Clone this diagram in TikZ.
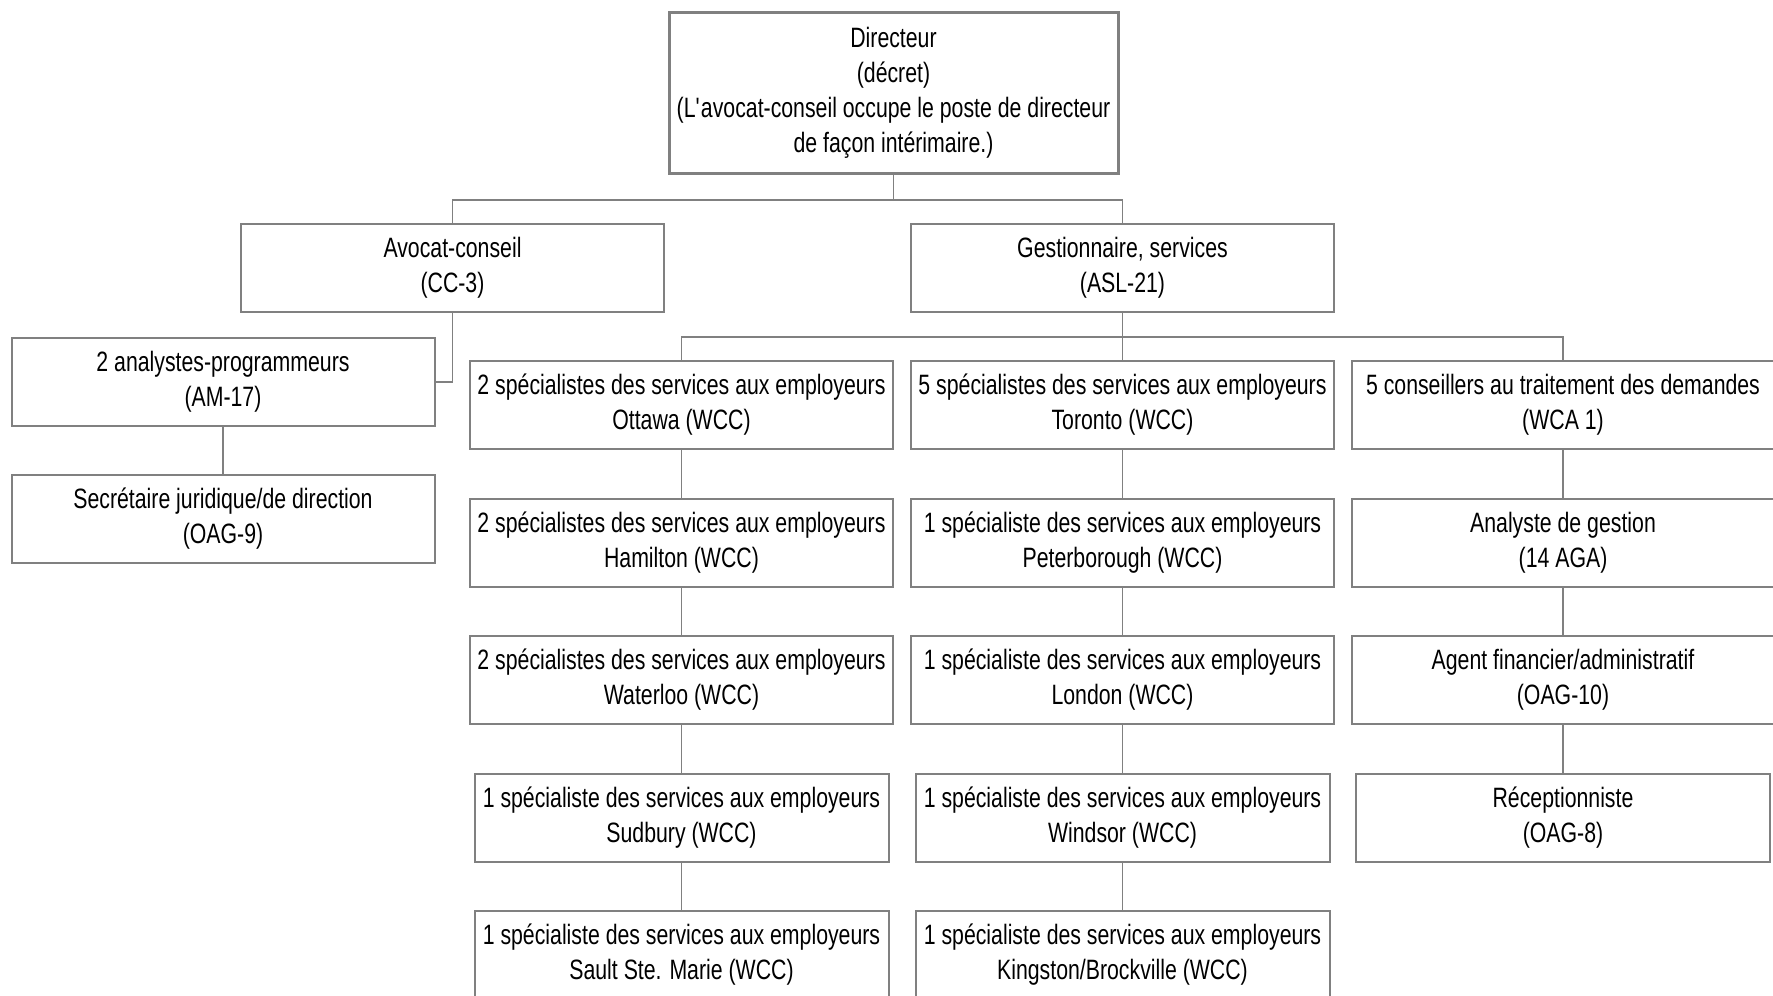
\documentclass[tikz,border=0pt]{standalone}
\usepackage{fontspec}
\setmainfont{Liberation Sans}[FakeStretch=0.76]
\usepackage{tikz}

\begin{document}
\begin{tikzpicture}
                        [x=0.5pt, y=-0.5pt,
                        poste/.style = {rectangle, draw=gray, line width=1pt,
                                    fill=white, align=center, inner sep=0pt,
                                    minimum width=211.5pt, minimum height=44pt,
                                    font=\fontsize{14}{17.5}\selectfont},
                        etroit/.style = {poste, minimum width=207pt},
                        lien/.style = {draw=gray, line width=0.75pt}]
                        \useasboundingbox (0,0) rectangle (1773,996);
                        % Direction
                        \node[poste, line width=1.5pt, minimum width=224.5pt,
                              minimum height=80.5pt] (dir) at (893.5,93)
                              {Directeur\\(décret)\\(L\textquotesingle avocat-conseil occupe le poste de directeur\\de façon intérimaire.)};
                        \node[poste] (avocat) at (452.5,268) {Avocat-conseil\\(CC-3)};
                        \node[poste] (gest) at (1122.5,268) {Gestionnaire, services\\(ASL-21)};
                        % Avocat-conseil
                        \node[poste] (analystes) at (223,382) {2 analystes-programmeurs\\(AM-17)};
                        \node[poste] (secr) at (223,519) {Secrétaire juridique/de direction\\(OAG-9)};
                        % Premiere colonne
                        \node[poste] (ott) at (681.5,405) {2 spécialistes des services aux employeurs\\Ottawa (WCC)};
                        \node[poste] (ham) at (681.5,543) {2 spécialistes des services aux employeurs\\Hamilton (WCC)};
                        \node[poste] (wat) at (681.5,680) {2 spécialistes des services aux employeurs\\Waterloo (WCC)};
                        \node[etroit] (sud) at (681.5,817.5) {1 spécialiste des services aux employeurs\\Sudbury (WCC)};
                        \node[etroit] (sault) at (681.5,955) {1 spécialiste des services aux employeurs\\Sault Ste. Marie (WCC)};
                        % Deuxieme colonne
                        \node[poste] (tor) at (1122.5,405) {5 spécialistes des services aux employeurs\\Toronto (WCC)};
                        \node[poste] (pet) at (1122.5,543) {1 spécialiste des services aux employeurs\\Peterborough (WCC)};
                        \node[poste] (lon) at (1122.5,680) {1 spécialiste des services aux employeurs\\London (WCC)};
                        \node[etroit] (win) at (1122.5,817.5) {1 spécialiste des services aux employeurs\\Windsor (WCC)};
                        \node[etroit] (king) at (1122.5,955) {1 spécialiste des services aux employeurs\\Kingston/Brockville (WCC)};
                        % Troisieme colonne
                        \node[poste] (cons) at (1563,405) {5 conseillers au traitement des demandes\\(WCA 1)};
                        \node[poste] (ana) at (1563,543) {Analyste de gestion\\(14 AGA)};
                        \node[poste] (agent) at (1563,680) {Agent financier/administratif\\(OAG-10)};
                        \node[etroit] (recep) at (1563,817.5) {Réceptionniste\\(OAG-8)};
                        % Liens
                        \coordinate (bus1) at (0,200);
                        \coordinate (bus2) at (0,337);
                        \draw[lien] (dir.south) -- (dir.south |- bus1);
                        \draw[lien] (avocat.north) |- (dir.south |- bus1) -| (gest.north);
                        \draw[lien] (avocat.south) |- (analystes.east);
                        \draw[lien] (analystes.south) -- (secr.north);
                        \draw[lien] (gest.south) -- (tor.north);
                        \draw[lien] (ott.north) |- (gest.south |- bus2) -| (cons.north);
                        \foreach \haut/\bas in {ott/ham, ham/wat, wat/sud, sud/sault,
                                                tor/pet, pet/lon, lon/win, win/king,
                                                cons/ana, ana/agent, agent/recep}
                            \draw[lien] (\haut.south) -- (\bas.north);
                    \end{tikzpicture}
\end{document}
